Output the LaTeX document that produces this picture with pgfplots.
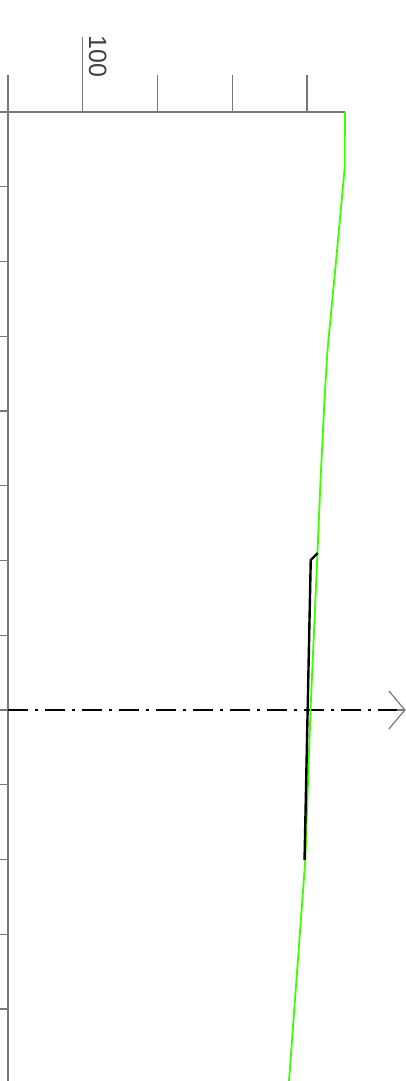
\documentclass[border=0pt]{standalone}
\usepackage{pgfplots}
\pgfplotsset{compat=1.18}
\usepackage{fontspec}
\setmainfont{Liberation Sans}
\usetikzlibrary{arrows.meta}
\definecolor{axgray}{RGB}{120,120,120}
\definecolor{lgreen}{RGB}{60,255,0}
\begin{document}
\begin{tikzpicture}
\begin{axis}[
  x=0.7475bp, y=74.75bp,
  xmin=0, xmax=450.8, ymin=-12.963, ymax=0,
  axis x line*=top, axis y line*=left,
  axis line style={axgray, line width=1.4bp, -},
  xtick={100}, xticklabels={},
  minor xtick={0,200,300,400},
  major tick length=75bp, minor tick length=37bp,
  ytick=\empty,
  extra y ticks={0,-1,-2,-3,-4,-5,-6,-7,-8,-9,-10,-11,-12}, extra y tick labels={},
  extra y tick style={major tick length=8bp},
  tick align=outside,
  every tick/.style={axgray, line width=1.4bp},
  clip=false,
]
\coordinate (bl) at (axis cs:-10.70,-12.963);
\coordinate (tr) at (axis cs:532.4,1.498);
% dash-dot reference line with open arrow
\addplot[black, line width=1.2bp, dash pattern=on 20bp off 7bp on 3bp off 7bp,
  forget plot] coordinates {(0,-8) (529,-8)};
\addplot[axgray, line width=1.2bp, -{Straight Barb[length=16bp,width=38bp]}, forget plot]
  coordinates {(520,-8) (532.0,-8)};
% green profile
\addplot[lgreen, line width=1.8bp] coordinates {
  (450.8,0) (450.4,-0.749) (438.1,-2.074) (427.4,-3.184) (423.4,-3.853)
  (418.1,-4.923) (414.0,-5.900) (404.7,-8.0) (397.7,-10.007) (375.9,-12.963)};
% black segment
\addplot[black, line width=2.4bp] coordinates {
  (414.3,-5.900) (405.0,-5.993) (396.7,-10.007)};
\node[rotate=-90, anchor=base west, inner sep=0pt, font=\fontsize{25bp}{30bp}\selectfont,
  text=black!75] at (axis cs:108.4,1.023) {100};
\end{axis}
\pgfresetboundingbox
\path[use as bounding box] (bl) rectangle (tr);
\end{tikzpicture}
\end{document}
